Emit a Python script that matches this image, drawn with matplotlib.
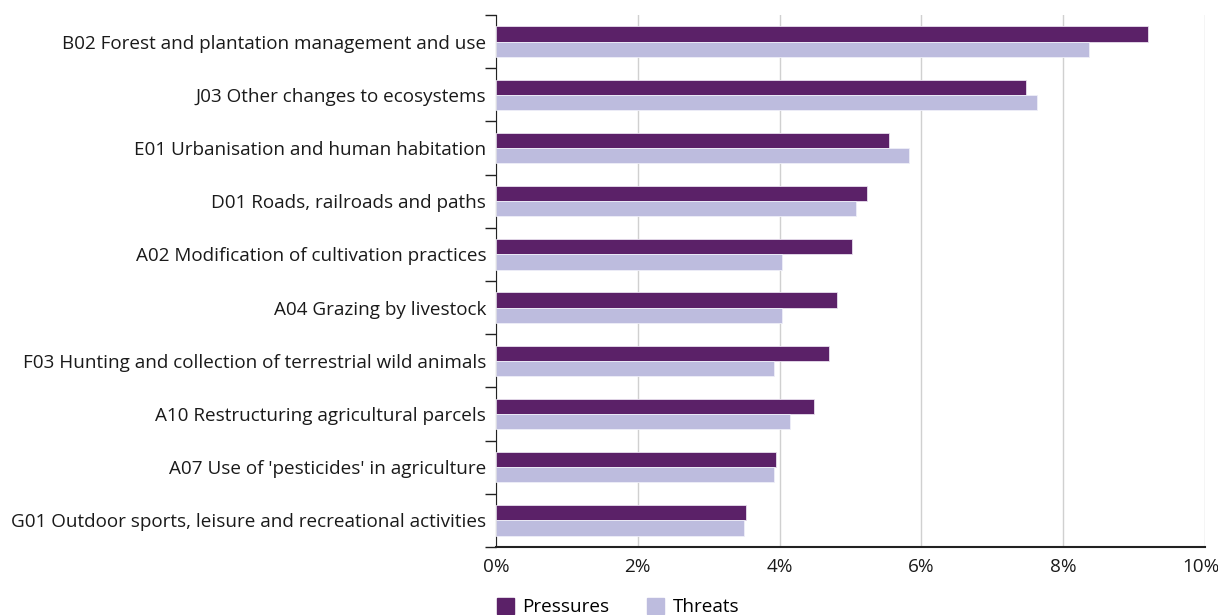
import numpy as np
import matplotlib.pyplot as plt
import matplotlib.transforms as mtransforms
from matplotlib.patches import Patch
from matplotlib.ticker import FuncFormatter

plt.rcParams['font.family'] = ['Open Sans', 'DejaVu Sans']

# data (top to bottom)
categories = [
    "B02 Forest and plantation management and use",
    "J03 Other changes to ecosystems",
    "E01 Urbanisation and human habitation",
    "D01 Roads, railroads and paths",
    "A02 Modification of cultivation practices",
    "A04 Grazing by livestock",
    "F03 Hunting and collection of terrestrial wild animals",
    "A10 Restructuring agricultural parcels",
    "A07 Use of 'pesticides' in agriculture",
    "G01 Outdoor sports, leisure and recreational activities",
]
pressures = [9.19, 7.48, 5.55, 5.23, 5.02, 4.81, 4.70, 4.49, 3.95, 3.53]
threats = [8.36, 7.63, 5.82, 5.08, 4.03, 4.03, 3.92, 4.14, 3.92, 3.50]

c_press = "#5b2168"
c_threat = "#bdbcde"
fs = 13.6

fig = plt.figure(figsize=(12.18, 6.15), dpi=100)
ax = fig.add_axes([496 / 1218, 1 - 547 / 615, (1205 - 496) / 1218, (547 - 15) / 615])

n = len(categories)
y = np.arange(n)
h = 0.285
ax.barh(y - h / 2, pressures, height=h, color=c_press, edgecolor="#e8e0ee", linewidth=0.6, zorder=3)
ax.barh(y + h / 2, threats, height=h, color=c_threat, edgecolor="#eeeef8", linewidth=0.6, zorder=3)

ax.set_ylim(n - 0.5, -0.5)
ax.set_xlim(0, 10)

# labels at centres, tick marks at band boundaries
ax.set_yticks(np.arange(n + 1) - 0.5)
ax.set_yticklabels([])
ax.set_yticks(y, minor=True)
ax.set_yticklabels(categories, minor=True, fontsize=fs, color="#1a1a1a")
ax.tick_params(axis="y", which="major", length=8, width=1, color="#222222")
ax.tick_params(axis="y", which="minor", length=0, pad=7)

ax.set_xticks(range(0, 11, 2))
ax.xaxis.set_major_formatter(FuncFormatter(lambda v, p: f"{v:.0f}%"))
ax.tick_params(axis="x", length=0, pad=8, labelsize=fs, labelcolor="#1a1a1a")
ax.grid(axis="x", color="#d0d0d0", linewidth=1, zorder=0)
ax.set_axisbelow(True)

# keep the last x label inside the figure
last = ax.get_xticklabels()[-1]
last.set_transform(last.get_transform() + mtransforms.ScaledTranslation(-4 / 100, 0, fig.dpi_scale_trans))

for s in ["top", "right"]:
    ax.spines[s].set_visible(False)
ax.spines["left"].set_color("#222222")
ax.spines["bottom"].set_color("#222222")
ax.spines["bottom"].set_linewidth(1.5)

handles = [Patch(color=c_press, label="Pressures"), Patch(color=c_threat, label="Threats")]
fig.legend(handles=handles, loc="upper left", bbox_to_anchor=(489 / 1218, 1 - 590 / 615),
           ncol=2, frameon=False, fontsize=fs, handlelength=0.9, handleheight=1.0,
           handletextpad=0.45, columnspacing=2.0, borderaxespad=0)

fig.savefig("out.png", dpi=100)
